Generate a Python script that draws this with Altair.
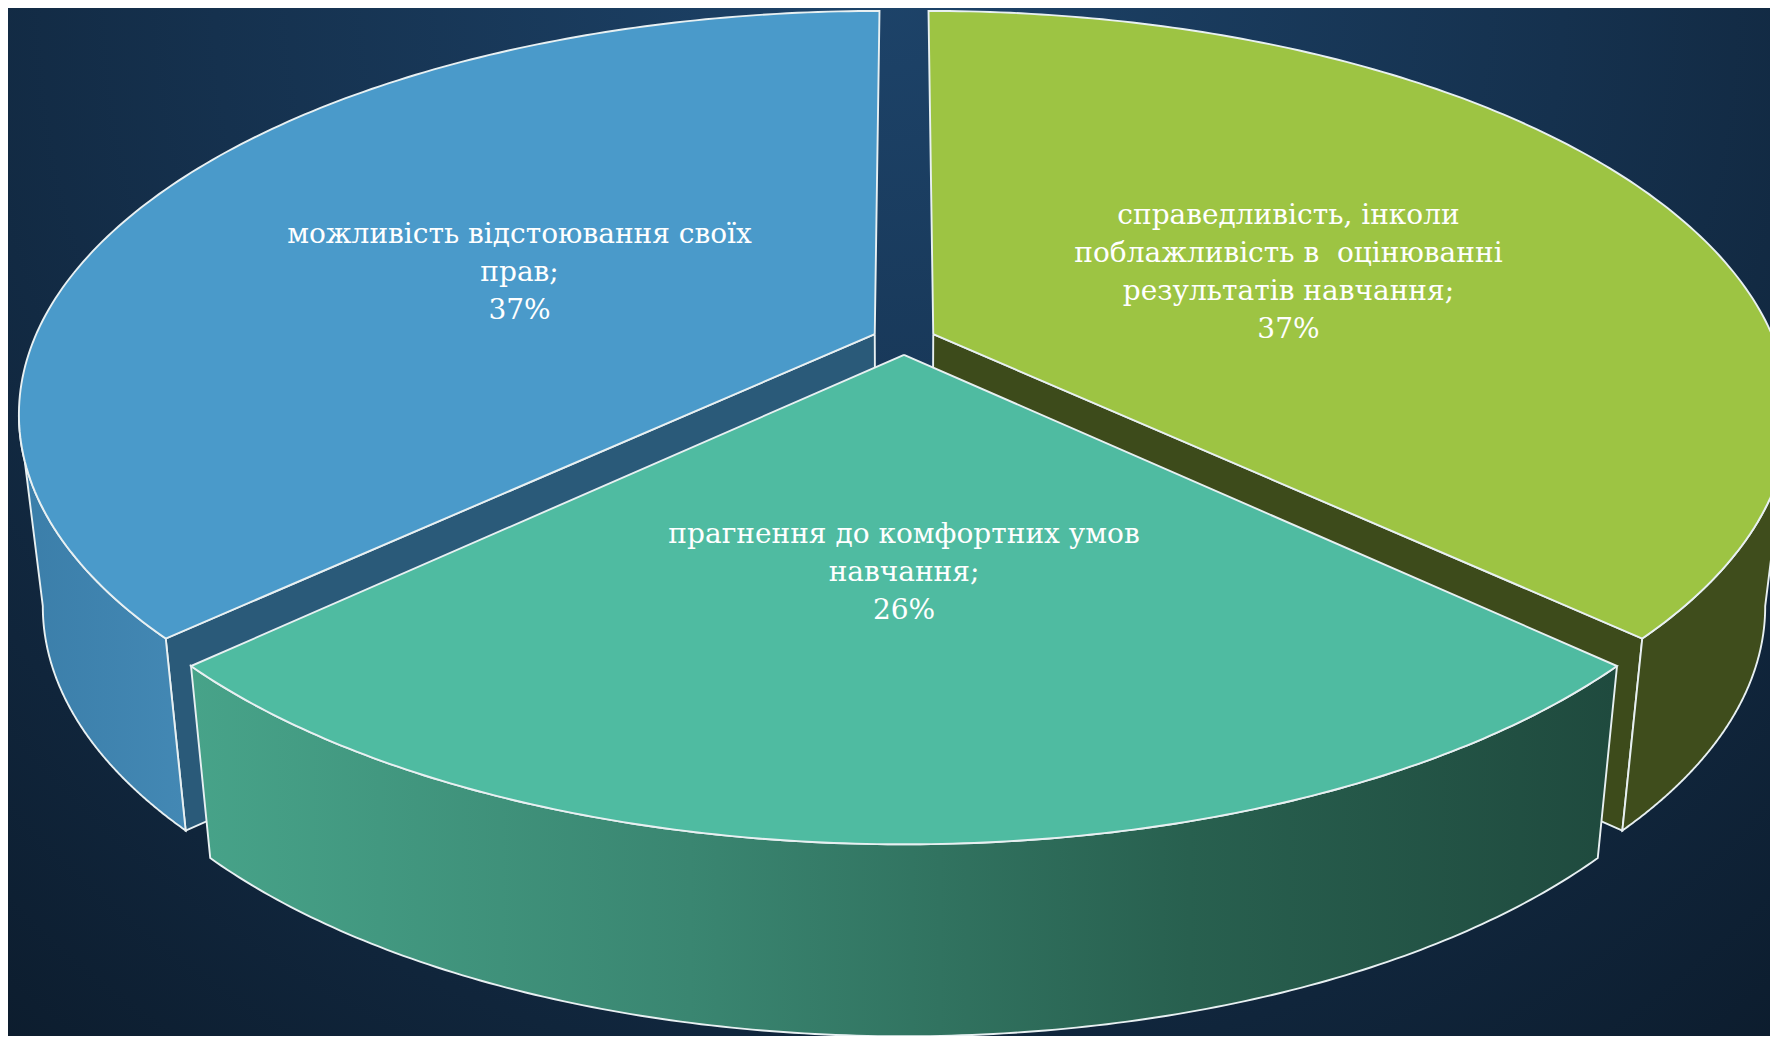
import numpy as np
import pandas as pd
import altair as alt

# ---------------- data ----------------
categories = [
    "справедливість, інколи\nпоблажливість в\u00a0 оцінюванні\nрезультатів навчання",
    "прагнення до комфортних умов\nнавчання",
    "можливість відстоювання своїх\nправ",
]
values = [37, 26, 37]
pct_labels = ["37%", "26%", "37%"]

# ---------------- styles ----------------
top_colors = ["#9dc443", "#4fbba1", "#4a9aca"]
radial_colors = ["#3d4b1b", "#1f4a3e", "#2a5a79"]
EDGE = "#e8f0f2"

W, H = 1762, 1028            # svg size (page has an 8px margin)
CX, CY = 904, 340            # pie centre in page pixels
R, RY, P = 841, 388, 0.194   # horizontal radius, vertical radius, perspective
DEPTH = 192                  # wall height
LEAN = 0.973                 # bottom rim is slightly narrower (vertical perspective)
EXPLODE = 0.038              # slice explode (fraction of radius)
N = 160
FONT_SIZE, LINE_H = 28, 38


def proj(u, v, drop=False):
    f = 1.0 / (1.0 - P * v)
    x = CX + R * u * f
    y = CY + RY * v * f
    if drop:
        x = CX + (x - CX) * LEAN
        y = y + DEPTH
    return x, y


fr = np.array(values, dtype=float) / sum(values)
ends = np.cumsum(fr) * 2 * np.pi
starts = ends - fr * 2 * np.pi

rows = []


def add_poly(pid, pts):
    pts = list(pts) + [pts[0]]
    for k, (x, y) in enumerate(pts):
        rows.append({"poly": pid, "idx": k, "x": float(x), "y": float(y)})


def offs(i):
    b = (starts[i] + ends[i]) / 2
    return EXPLODE * np.sin(b), -EXPLODE * np.cos(b)


def arc(i, a0, a1, drop=False):
    ou, ov = offs(i)
    ts = np.linspace(a0, a1, N)
    return [proj(ou + np.sin(t), ov - np.cos(t), drop) for t in ts]


def top_face(i):
    ou, ov = offs(i)
    return [proj(ou, ov)] + arc(i, starts[i], ends[i])


def radial_face(i, a):
    ou, ov = offs(i)
    return [proj(ou, ov), proj(ou + np.sin(a), ov - np.cos(a)),
            proj(ou + np.sin(a), ov - np.cos(a), True), proj(ou, ov, True)]


def silhouette_angles(i):
    # angles where the projected rim reaches its extreme right / left
    ou, ov = offs(i)
    ts = np.linspace(0, 2 * np.pi, 3601)
    xs_ = np.array([proj(ou + np.sin(t), ov - np.cos(t))[0] for t in ts])
    return ts[np.argmax(xs_)], ts[np.argmin(xs_)]


def outer_wall(i):
    a_r, a_l = silhouette_angles(i)
    s = max(starts[i], a_r)
    e = min(ends[i], a_l)
    return arc(i, s, e) + arc(i, e, s, True)


# slice 0: green (0..133deg), slice 1: teal (133..227), slice 2: blue (227..360)
add_poly("blue_radial", radial_face(2, starts[2]))
add_poly("green_radial", radial_face(0, ends[0]))
add_poly("blue_wall", outer_wall(2))
add_poly("green_wall", outer_wall(0))
add_poly("blue_top", top_face(2))
add_poly("green_top", top_face(0))
add_poly("teal_wall", outer_wall(1))
add_poly("teal_top", top_face(1))

df_poly = pd.DataFrame(rows)

# label positions along each slice bisector (block centred on that point)
lab_rows = []
for i in range(len(values)):
    ou, ov = offs(i)
    b = (starts[i] + ends[i]) / 2
    x, y = proj(ou + 0.48 * np.sin(b), ov - 0.48 * np.cos(b))
    label = categories[i] + ";\n" + pct_labels[i]
    n_lines = label.count("\n") + 1
    lab_rows.append({"x": x, "y": y + 10 - (n_lines - 1) * LINE_H / 2, "label": label})
df_lab = pd.DataFrame(lab_rows)

xs = alt.Scale(domain=[8, 8 + W], nice=False, zero=False)
ys = alt.Scale(domain=[8, 8 + H], nice=False, zero=False, reverse=True)


def poly_layer(pid, fill):
    return (
        alt.Chart(df_poly)
        .transform_filter(alt.datum.poly == pid)
        .mark_line(fill=fill, stroke=EDGE, strokeWidth=1.9, clip=True)
        .encode(
            x=alt.X("x:Q", scale=xs, axis=None),
            y=alt.Y("y:Q", scale=ys, axis=None),
            order=alt.Order("idx:Q"),
        )
    )


def lin(stops):
    return alt.LinearGradient(
        gradient="linear",
        stops=[alt.GradientStop(offset=o, color=c) for o, c in stops],
        x1=0, x2=1, y1=0, y2=0,
    )


bg = (
    alt.Chart(pd.DataFrame({"a": [0]}))
    .mark_rect(
        fill=alt.RadialGradient(
            gradient="radial",
            stops=[
                alt.GradientStop(offset=0, color="#1d4369"),
                alt.GradientStop(offset=0.45, color="#15314e"),
                alt.GradientStop(offset=1, color="#0b1928"),
            ],
            x1=0.5, y1=0.2, x2=0.5, y2=0.2, r1=0, r2=0.85,
        )
    )
    .encode(x=alt.value(0), x2=alt.value(W), y=alt.value(0), y2=alt.value(H))
)

layers = [
    bg,
    poly_layer("blue_radial", radial_colors[2]),
    poly_layer("green_radial", radial_colors[0]),
    poly_layer("blue_wall", lin([(0, "#3b7ea9"), (1, "#4388b4")])),
    poly_layer("green_wall", "#3f4d1c"),
    poly_layer("blue_top", top_colors[2]),
    poly_layer("green_top", top_colors[0]),
    poly_layer("teal_wall", lin([(0, "#47a389"), (0.35, "#3a8671"), (0.7, "#28604f"), (1, "#1f4a3e")])),
    poly_layer("teal_top", top_colors[1]),
]

text = (
    alt.Chart(df_lab)
    .mark_text(
        font="DejaVu Serif", fontSize=FONT_SIZE, color="white", lineBreak="\n",
        lineHeight=LINE_H, align="center", baseline="middle",
    )
    .encode(x=alt.X("x:Q", scale=xs), y=alt.Y("y:Q", scale=ys), text="label:N")
)

chart = (
    alt.layer(*layers, text)
    .properties(width=W, height=H, padding=0, autosize=alt.AutoSizeParams(type="none"),
                background="#0f2438")
    .configure_view(stroke=None)
)

chart.save("out.html", embed_options={"renderer": "svg", "actions": False})
